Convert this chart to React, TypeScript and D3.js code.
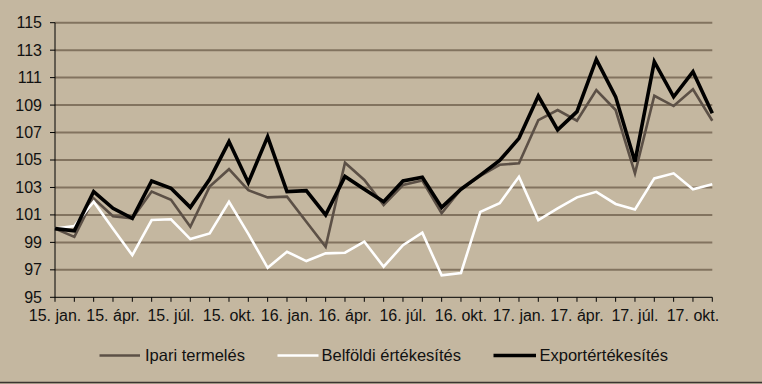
import React from "react";
import * as d3 from "d3";

const categories = [
  "15. jan.", "15. febr.", "15. márc.", "15. ápr.", "15. máj.", "15. jún.", "15. júl.", "15. aug.", "15. szept.", "15. okt.", "15. nov.", "15. dec.",
  "16. jan.", "16. febr.", "16. márc.", "16. ápr.", "16. máj.", "16. jún.", "16. júl.", "16. aug.", "16. szept.", "16. okt.", "16. nov.", "16. dec.",
  "17. jan.", "17. febr.", "17. márc.", "17. ápr.", "17. máj.", "17. jún.", "17. júl.", "17. aug.", "17. szept.", "17. okt.", "17. nov.",
];

const ipari = [
  100.0, 99.4, 102.2, 100.9, 100.75, 102.7, 102.1, 100.14, 103.06, 104.33, 102.8, 102.28,
  102.33, 100.5, 98.68, 104.8, 103.55, 101.72, 103.18, 103.5, 101.12, 102.87, 103.84, 104.65,
  104.76, 107.9, 108.64, 107.86, 110.1, 108.64, 104.03, 109.68, 108.93, 110.15, 107.86,
];

const belfoldi = [
  100.0, 100.19, 101.96, 100.0, 98.07, 100.63, 100.68, 99.24, 99.65, 101.96, 99.62, 97.15,
  98.32, 97.64, 98.2, 98.25, 99.05, 97.23, 98.8, 99.7, 96.6, 96.77, 101.22, 101.85,
  103.78, 100.62, 101.47, 102.28, 102.68, 101.8, 101.4, 103.66, 104.03, 102.87, 103.23,
];

const export_ = [
  100.0, 99.84, 102.7, 101.48, 100.75, 103.47, 102.94, 101.55, 103.6, 106.34, 103.35, 106.7,
  102.7, 102.77, 101.0, 103.8, 102.87, 101.96, 103.47, 103.74, 101.55, 102.87, 103.9, 104.96,
  106.58, 109.66, 107.19, 108.52, 112.33, 109.6, 104.88, 112.16, 109.6, 111.43, 108.4,
];

const yTicks = [95, 97, 99, 101, 103, 105, 107, 109, 111, 113, 115];

const seriesNames = ["Ipari termelés", "Belföldi értékesítés", "Exportértékesítés"];

const BG = "#c4b7a0";
const GRID = "#82735f";
const FONT = "'Liberation Sans', Arial, sans-serif";

export default function App() {
  const W = 762;
  const H = 384;
  const x = d3.scalePoint<string>().domain(categories).range([55, 712.3]);
  const y = d3.scaleLinear().domain([95, 115]).range([297.3, 22.7]);

  const line = d3
    .line<number>()
    .x((_, i) => x(categories[i]) as number)
    .y((d) => y(d));

  const series = [
    { name: seriesNames[0], data: ipari, color: "#5c5046", width: 2.6 },
    { name: seriesNames[1], data: belfoldi, color: "#ffffff", width: 2.6 },
    { name: seriesNames[2], data: export_, color: "#000000", width: 3.6 },
  ];

  const legendPos = [
    { x1: 99.5, x2: 140, tx: 145 },
    { x1: 277.5, x2: 318.5, tx: 321.5 },
    { x1: 493.5, x2: 536, tx: 539.5 },
  ];

  const x0 = 55;
  const x1 = 712.3;

  return (
    <svg
      width={W}
      height={H}
      style={{ position: "absolute", left: 0, top: 0, display: "block" }}
      fontFamily={FONT}
    >
      <rect x={0} y={0} width={W} height={H} fill={BG} />
      <line x1={0} x2={W} y1={382.5} y2={382.5} stroke="#3a3530" strokeWidth={1.5} />
      {yTicks.map((t) =>
        t === 95 ? null : (
          <line key={"g" + t} x1={x0} x2={x1} y1={y(t)} y2={y(t)} stroke={GRID} strokeWidth={2} />
        )
      )}
      {/* axes */}
      <line x1={x0} x2={x0} y1={y(115)} y2={y(95)} stroke="#000" strokeWidth={1} />
      <line x1={x0} x2={x1} y1={y(95)} y2={y(95)} stroke="#000" strokeWidth={1} />
      {yTicks.map((t) => (
        <g key={"yt" + t}>
          <line x1={x0 - 5} x2={x0} y1={y(t)} y2={y(t)} stroke="#000" strokeWidth={1} />
          <text x={42} y={y(t)} dy="0.34em" textAnchor="end" fontSize={16} fill="#111">
            {t}
          </text>
        </g>
      ))}
      {categories.map((c, i) => (
        <line
          key={"xt" + i}
          x1={x(c) as number}
          x2={x(c) as number}
          y1={y(95)}
          y2={y(95) + 4.5}
          stroke="#000"
          strokeWidth={1}
        />
      ))}
      {categories.map((c, i) =>
        i % 3 === 0 ? (
          <text
            key={"xl" + i}
            x={x(c) as number}
            y={321}
            textAnchor="middle"
            fontSize={16}
            fill="#111"
          >
            {c}
          </text>
        ) : null
      )}
      {series.map((s) => (
        <path
          key={s.name}
          d={line(s.data) || ""}
          fill="none"
          stroke={s.color}
          strokeWidth={s.width}
        />
      ))}
      {series.map((s, i) => (
        <g key={"lg" + i}>
          <line
            x1={legendPos[i].x1}
            x2={legendPos[i].x2}
            y1={355.5}
            y2={355.5}
            stroke={s.color}
            strokeWidth={s.width}
          />
          <text x={legendPos[i].tx} y={361} fontSize={16.5} fill="#111">
            {s.name}
          </text>
        </g>
      ))}
    </svg>
  );
}
